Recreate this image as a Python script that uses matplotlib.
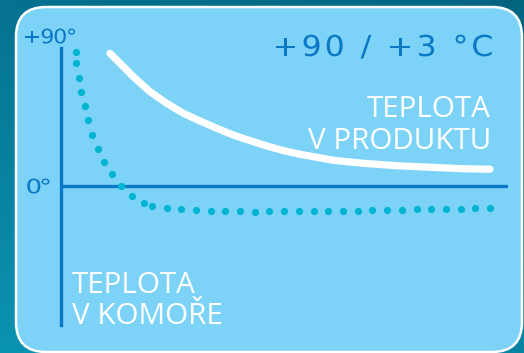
import numpy as np
import matplotlib
matplotlib.use("Agg")
import matplotlib.pyplot as plt
from matplotlib.patches import FancyBboxPatch, PathPatch
from matplotlib.textpath import TextPath
from matplotlib.font_manager import FontProperties, findfont
from matplotlib.ft2font import FT2Font
from matplotlib.transforms import Affine2D

# data: time (min) / temperature (deg)
komora_t = [3.95, 4.11, 4.75, 5.37, 6.31, 7.33, 8.40, 9.99, 11.62, 13.69,
            16.11, 19.06, 22.28, 24.43, 28.38, 32.30, 36.24, 40.19, 44.11, 48.05,
            52.0, 55.92, 59.87, 63.89, 67.84, 71.76, 75.70, 79.65, 83.57, 87.52,
            91.54, 95.49, 99.41, 103.36, 107.30, 111.22, 115.25]
komora_temp = [88.9, 81.4, 71.7, 62.4, 52.6, 43.7, 34.0, 24.3, 15.9, 7.7,
               0.0, -6.4, -11.4, -13.2, -14.8, -15.4, -16.1, -16.3, -16.5, -16.7,
               -17.0, -16.7, -16.7, -16.7, -16.7, -16.5, -16.5, -16.3, -16.1, -15.9,
               -15.7, -15.4, -15.4, -15.2, -15.0, -14.8, -14.4]

produkt_t = [13.15, 15.84, 19.41, 23.89, 28.38, 32.83, 37.32, 41.80, 46.26, 50.74,
             55.22, 59.68, 64.16, 68.64, 73.10, 81.07, 90.12, 99.06, 107.92, 115.17]
produkt_temp = [87.8, 81.2, 72.3, 62.4, 54.7, 48.1, 43.0, 38.2, 33.7, 30.0,
                26.5, 23.4, 21.0, 19.0, 17.0, 15.0, 13.4, 12.4, 11.4, 11.1]

title = "+90 / +3 °C"
y_labels = ["+90°", "0°"]
produkt_label = ["TEPLOTA", "V PRODUKTU"]
komora_label = ["TEPLOTA", "V KOMOŘE"]

W, H = 524, 353
BLUE = "#0a78c4"
DOTS = "#00b5d2"

fig = plt.figure(figsize=(W / 100, H / 100), dpi=100)

# background gradient + rounded panel (this axes works in pixels, y down)
bg = fig.add_axes([0, 0, 1, 1])
gx, gy = np.meshgrid(np.linspace(0, 1, 200), np.linspace(0, 1, 200))
g = (gy * 0.7 + (1 - gx) * 0.3)
dark = np.array([0x03, 0x64, 0x80]) / 255
light = np.array([0x0b, 0x93, 0xb2]) / 255
img = dark[None, None, :] * (1 - g[..., None]) + light[None, None, :] * g[..., None]
bg.imshow(img, extent=[0, W, H, 0], aspect="auto")
bg.set_xlim(0, W)
bg.set_ylim(H, 0)
bg.axis("off")
panel = FancyBboxPatch((16 + 30, 7 + 30), 506 - 60, 345 - 60,
                       boxstyle="round,pad=30", fc="#7cd3f7", ec="white", lw=1.8)
bg.add_patch(panel)

# chart axes
ax = fig.add_axes([61 / W, (H - 325) / H, (508 - 61) / W, (325 - 48) / H])
ax.patch.set_alpha(0)
ax.set_xlim(0, 120)
ax.set_ylim(-92.0, 91.3)
for s in ["top", "right", "bottom"]:
    ax.spines[s].set_visible(False)
ax.spines["left"].set_color(BLUE)
ax.spines["left"].set_linewidth(2.4)
ax.axhline(0, color=BLUE, lw=2.4)
ax.set_xticks([])
ax.set_yticks([])

ax.plot(produkt_t, produkt_temp, color="white", lw=5.2,
        solid_capstyle="round", solid_joinstyle="round", clip_on=False)
ax.plot(komora_t, komora_temp, "o", color=DOTS, ms=5.2, mec="none", clip_on=False)

prop = FontProperties(family="DejaVu Sans")
ft = FT2Font(findfont(prop))


# wide, letter-spaced blue lettering fitted to the span seen in the picture
def wide_text(s, x0, x1, baseline, digit_h, sx=1.1):
    size = digit_h / 0.729
    ft.set_size(size, 72)
    pen, glyphs = 0.0, []
    for i, ch in enumerate(s):
        g = ft.load_char(ord(ch))
        if ch != " ":
            tp = TextPath((0, 0), ch, size=size, prop=prop)
            glyphs.append((i, pen, tp, tp.get_extents()))
        pen += g.linearHoriAdvance / 65536
    first, last = glyphs[0], glyphs[-1]
    left0 = (first[1] + first[3].x0) * sx
    right0 = (last[1] + last[3].x1) * sx
    track = ((x1 - x0) - (right0 - left0)) / (last[0] - first[0])
    for i, p, tp, ext in glyphs:
        xs = x0 - left0 + p * sx + (i - first[0]) * track
        tr = Affine2D().scale(sx, -1).translate(xs, baseline)
        bg.add_patch(PathPatch(tp, transform=tr + bg.transData, fc=BLUE, ec="none"))


wide_text(y_labels[0], 25.3, 75, 43.3, 14.5, sx=1.12)
wide_text(y_labels[1], 27.3, 49.5, 193.3, 14.5, sx=1.3)
wide_text(title, 275.5, 491.7, 56, 21)


def px(x, y):
    return x / W, 1 - y / H


fig.text(*px(491, 116.7), produkt_label[0], color="white", fontsize=21.3,
         family="Open Sans", va="baseline", ha="right")
fig.text(*px(491, 149.3), produkt_label[1], color="white", fontsize=21.3,
         family="Open Sans", va="baseline", ha="right")
fig.text(*px(72, 292.7), komora_label[0], color="white", fontsize=21.3,
         family="Open Sans", va="baseline", ha="left")
fig.text(*px(72, 324), komora_label[1], color="white", fontsize=21.3,
         family="Open Sans", va="baseline", ha="left")

fig.savefig("out.png", dpi=100)
